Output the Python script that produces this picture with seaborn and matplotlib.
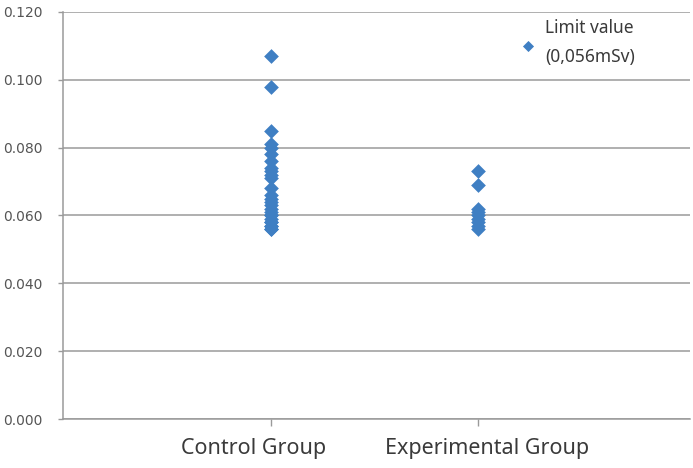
import pandas as pd
import seaborn as sns
import matplotlib.pyplot as plt

# dose values (mSv)
control_vals = [0.107, 0.098, 0.085, 0.081, 0.080, 0.078, 0.076, 0.074, 0.073,
                0.072, 0.071, 0.068, 0.066, 0.065, 0.064, 0.063, 0.062, 0.061,
                0.060, 0.060, 0.059, 0.058, 0.058, 0.057, 0.057, 0.056, 0.056]
experimental_vals = [0.073, 0.069, 0.062, 0.061, 0.060, 0.059, 0.058, 0.057, 0.056]
groups = ['Control Group', 'Experimental Group']
limit_label = 'Limit value\n(0,056mSv)'
limit_point = (1.24, 0.110)

df = pd.DataFrame({
    'group': [groups[0]] * len(control_vals) + [groups[1]] * len(experimental_vals),
    'dose': control_vals + experimental_vals,
})

sns.set_style('white')
plt.rcParams['font.family'] = ['DejaVu Sans']
blue = '#3f7fc3'
grey = '#9a9a9a'

fig = plt.figure(figsize=(6.93, 4.68), dpi=100)
ax = fig.add_axes([0.0909, 0.1047, 0.9048, 0.8697])

sns.stripplot(data=df, x='group', y='dose', order=groups, jitter=False,
              marker='D', s=7.5, color=blue, linewidth=0, ax=ax)

# limit value marker + text
ax.scatter([limit_point[0]], [limit_point[1]], marker='D', s=32, color=blue,
           linewidths=0, zorder=3)
ax.text(limit_point[0] + 0.085, limit_point[1] + 0.001, limit_label, fontsize=12.5,
        color='#3a3a3a', va='center', ha='left', linespacing=1.8,
        family='Noto Sans')

ax.set_xlim(-1.005, 2.024)
ax.set_ylim(0, 0.12)
ax.set_yticks([0, 0.02, 0.04, 0.06, 0.08, 0.10, 0.12])
ax.set_yticklabels(['%.3f' % v for v in ax.get_yticks()], fontsize=10,
                   color='#555555')
ax.yaxis.grid(True, color=grey, linewidth=1.1)
ax.set_axisbelow(True)
ax.set_xlabel('')
ax.set_ylabel('')

# tick marks at the groups, labels sit slightly off them as in the original
ax.set_xticks([0, 1])
ax.set_xticklabels([])
ax.set_xticks([-0.082, 1.043], minor=True)
ax.set_xticklabels(groups, minor=True, fontsize=15.5, color='#3a3a3a',
                   family='Noto Sans')
ax.tick_params(axis='x', which='minor', length=0, pad=14)

ax.tick_params(axis='y', length=3.6, color=grey, width=1, pad=10.8, left=True)
ax.tick_params(axis='x', which='major', length=5, color=grey, width=1, bottom=True)
sns.despine(ax=ax, top=True, right=True)
ax.spines['left'].set_color(grey)
ax.spines['bottom'].set_color(grey)
ax.spines['left'].set_linewidth(1.1)
ax.spines['bottom'].set_linewidth(1.1)

fig.savefig('out.png', dpi=100)
